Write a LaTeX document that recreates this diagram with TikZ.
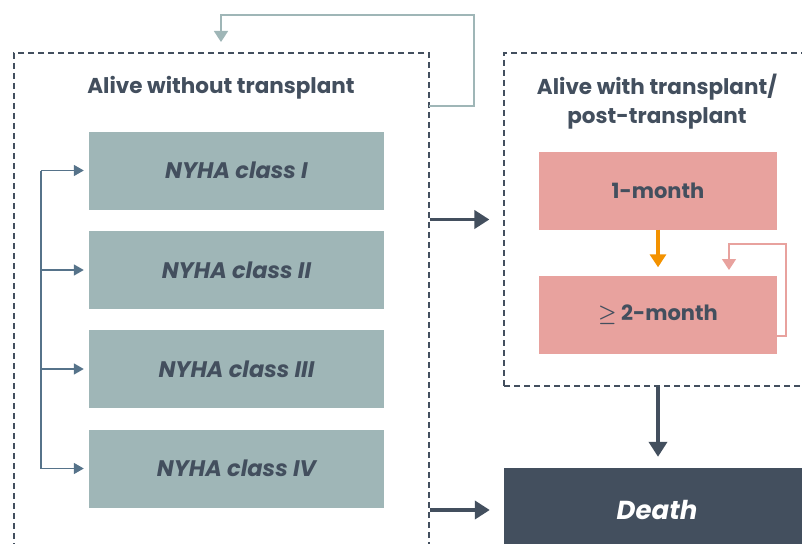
\documentclass[tikz,border=0pt]{standalone}
\usepackage{fontspec}
\usepackage{amssymb}
\setmainfont{Poppins}
\usepackage{tikz}
\usetikzlibrary{arrows.meta,positioning}
\definecolor{slate}{HTML}{434F5E}
\definecolor{sage}{HTML}{9FB6B7}
\definecolor{rose}{HTML}{E8A29E}
\definecolor{amber}{HTML}{F39200}
\definecolor{steel}{HTML}{56738A}

\begin{document}
\begin{tikzpicture}[x=1pt,y=-1pt,
	classbox/.style={font=\fontsize{22.5}{26}\selectfont\bfseries\itshape, text=slate, fill=sage, minimum width=295, minimum height=78, inner sep=0, align=center},
	monthbox/.style={font=\fontsize{21}{24}\selectfont\bfseries, text=slate, fill=rose, minimum width=238, minimum height=78, inner sep=0, align=center},
	frame/.style={draw=slate, line width=1.2, dash pattern=on 6 off 4, inner sep=0},
	title/.style={font=\fontsize{21.5}{29}\selectfont\bfseries, text=slate, align=center},
	bigarrow/.style={draw=slate, line width=3.8, -{Triangle[length=15,width=18]}},
	brarrow/.style={draw=steel, line width=1.6, -{Triangle[length=10,width=11]}}
]
\useasboundingbox (0,0) rectangle (802,543);
\clip (0,0) rectangle (802,543);

% frames
\node[frame, minimum width=415, minimum height=540] (leftframe) at (221.5,323) {};
\node[frame, minimum width=330, minimum height=333] (rightframe) at (669,219.5) {};
\node[title] (lefttitle) at (221,88) {Alive without transplant};
\node[title] (righttitle) at (657,102) {Alive with transplant/\\post-transplant};

% boxes
\node[classbox] (b1) at (236.5,170.5) {NYHA class I};
\node[classbox] (b2) at (236.5,270) {NYHA class II};
\node[classbox] (b3) at (236.5,369) {NYHA class III};
\node[classbox] (b4) at (236.5,468.5) {NYHA class IV};
\node[monthbox] (m1) at (658,190.5) {1-month};
\node[monthbox] (m2) at (658,314.5) {{\boldmath$\geq$} 2-month};
\node[fill=slate, text=white, font=\fontsize{26}{30}\selectfont\bfseries\itshape, minimum width=306, minimum height=84, inner sep=0] (death) at (657,510) {Death};

% bracket
\coordinate (brtop) at (41,170.5);
\draw[steel, line width=1.6] (brtop) -- (brtop |- b4.west);
\foreach \i in {1,...,4}
	\draw[brarrow, shorten >=5] (brtop |- b\i.west) -- (b\i.west);

% loops
\coordinate (loopstart) at (429,106);
\draw[sage, line width=1.6, -{Triangle[length=11,width=14]}] (loopstart) -- ++(45,0) |- (221,15) -- (221,42);
\coordinate (pinkstart) at (777,336);
\draw[rose, line width=1.6, -{Triangle[length=11,width=14]}] (pinkstart) -- ++(9,0) |- (729,244) -- (729,270);

% transitions
\draw[amber, line width=3.5, -{Triangle[length=13,width=16]}, shorten >=8] (m1.south) -- (m2.north);
\draw[bigarrow, shorten >=14] (leftframe.east |- rightframe.west) -- (rightframe.west);
\draw[bigarrow, shorten >=14] (leftframe.east |- death.west) -- (death.west);
\draw[bigarrow, shorten >=11] (rightframe.south -| m1.south) -- (death.north -| m1.south);
\end{tikzpicture}
\end{document}
